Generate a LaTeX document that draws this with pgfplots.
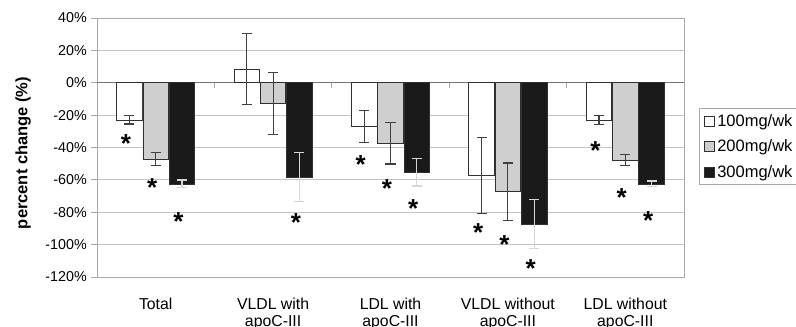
\documentclass[border=0pt]{standalone}
\usepackage{pgfplots}
\pgfplotsset{compat=1.18}
\usepackage{fontspec}
\setmainfont{Liberation Sans}
\definecolor{gridc}{HTML}{C4C4C4}
\definecolor{framec}{HTML}{A8A8A8}
\definecolor{barline}{HTML}{303030}
\definecolor{gfill}{HTML}{CFCFCF}
\definecolor{bfill}{HTML}{1A1A1A}
\definecolor{errd}{HTML}{404040}
\definecolor{errl}{HTML}{D6D6D6}
\begin{document}
\begin{tikzpicture}
\begin{axis}[
  scale only axis, width=587bp, height=259bp,
  xmin=-0.5, xmax=4.5, ymin=-120, ymax=40,
  axis line style={draw=framec, line width=0.9bp},
  ymajorgrids, grid style={draw=gridc, line width=0.9bp},
  ytick={-120,-100,-80,-60,-40,-20,0,20,40},
  yticklabels={-120\%,-100\%,-80\%,-60\%,-40\%,-20\%,0\%,20\%,40\%},
  yticklabel style={font=\fontsize{14.3bp}{16bp}\selectfont, inner sep=0pt, xshift=-4bp},
  ytick pos=left, tick align=outside, major tick length=6bp,
  ytick style={draw=framec, line width=0.9bp},
  xtick={0,1,2,3,4}, xtick style={draw=none},
  xticklabels={Total,{VLDL with\\apoC-III},{LDL with\\apoC-III},{VLDL without\\apoC-III},{LDL without\\apoC-III}},
  xticklabel style={align=center, font=\fontsize{15.8bp}{16.4bp}\selectfont, anchor=north, inner sep=0pt, yshift=-15bp},
  ylabel={percent change (\%)},
  ylabel style={font=\fontsize{16.5bp}{18bp}\selectfont\bfseries, at={(axis description cs:-0.126,0.479)}, anchor=center},
  legend style={at={(axis description cs:1.0256,0.6525)}, anchor=north west, draw=framec, line width=0.9bp,
    font=\fontsize{16.5bp}{18bp}\selectfont, row sep=8bp, inner xsep=5bp, inner ysep=4bp},
  legend cell align=left,
]
\draw[draw=gray!90!black, line width=0.9bp] (axis cs:-0.5,0) -- (axis cs:4.5,0);
\pgfplotsinvokeforeach{0.5,1.5,2.5,3.5}{\draw[draw=framec, line width=0.9bp] (axis cs:#1,0) -- ([yshift=-5bp]axis cs:#1,0);}
\addplot[ybar, bar width=0.218, bar shift=0pt, fill=white, draw=barline, line width=0.8bp,
  legend image code/.code={\draw[fill=white, draw=barline, line width=0.8bp] (0bp,-5bp) rectangle (10bp,5bp);},
  error bars/.cd, y dir=both, y explicit, error bar style={draw=errd, line width=1.1bp},
  error mark options={rotate=90, draw=errd, mark size=5bp, line width=1.1bp}]
  coordinates {(-0.224,-23.0) +- (0,2.5) (0.776,8.5) +- (0,22) (1.776,-27.1) +- (0,10) (2.776,-57.4) +- (0,23.6) (3.776,-23.0) +- (0,2.8)};
\addlegendentry{100mg/wk}
\addplot[ybar, bar width=0.218, bar shift=0pt, fill=gfill, draw=barline, line width=0.8bp,
  legend image code/.code={\draw[fill=gfill, draw=barline, line width=0.8bp] (0bp,-5bp) rectangle (10bp,5bp);},
  error bars/.cd, y dir=both, y explicit, error bar style={draw=errd, line width=1.1bp},
  error mark options={rotate=90, draw=errd, mark size=5bp, line width=1.1bp}]
  coordinates {(0,-47.3) +- (0,4) (1,-12.7) +- (0,19) (2,-37.4) +- (0,12.8) (3,-67.3) +- (0,17.7) (4,-47.7) +- (0,3.6)};
\addlegendentry{200mg/wk}
\addplot[ybar, bar width=0.218, bar shift=0pt, fill=bfill, draw=barline, line width=0.8bp,
  legend image code/.code={\draw[fill=bfill, draw=barline, line width=0.8bp] (0bp,-5bp) rectangle (10bp,5bp);},
  error bars/.cd, y dir=both, y explicit, error bar style={draw=errl, line width=1.1bp},
  error mark options={rotate=90, draw=errl, mark size=5bp, line width=1.1bp}]
  coordinates {(0.224,-62.5) +- (0,2.4) (1.224,-58.4) +- (0,15.2) (2.224,-55.3) +- (0,8.5) (3.224,-87.2) +- (0,15.3) (4.224,-62.5) +- (0,1.8)};
\addlegendentry{300mg/wk}
\addplot[only marks, mark=text, text mark={\fontsize{26bp}{26bp}\selectfont\bfseries *}, forget plot]
  coordinates {(-0.254,-37.3) (-0.03,-64.9) (0.194,-85.5) (1.194,-86.1)
    (1.746,-50.7) (1.97,-65.3) (2.194,-77.9)
    (2.746,-92.3) (2.97,-99.9) (3.194,-114.5)
    (3.746,-41.8) (3.97,-70.7) (4.194,-85.1)};
\end{axis}
\pgfresetboundingbox
\path (-97bp,-50bp) rectangle (699bp,277bp);
\end{tikzpicture}
\end{document}
